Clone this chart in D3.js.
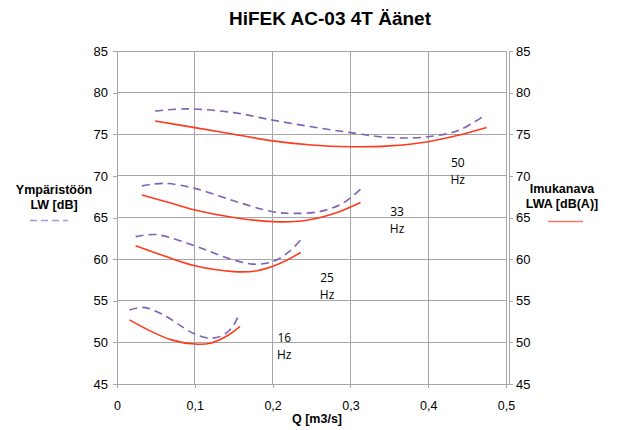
<!DOCTYPE html>
<html><head><meta charset="utf-8">
<script src="https://cdn.jsdelivr.net/npm/d3@7"></script>
<style>body{margin:0;background:#fff}svg{display:block}</style>
</head><body>
<svg id="c" width="619" height="430"></svg>
<script>
const title = "HiFEK AC-03 4T Äänet";
const xTitle = "Q [m3/s]";
const xTicks = [0, 0.1, 0.2, 0.3, 0.4, 0.5];
const yTicks = [45, 50, 55, 60, 65, 70, 75, 80, 85];
const leftLegend = ["Ympäristöön", "LW [dB]"];
const rightLegend = ["Imukanava", "LWA [dB(A)]"];

// Ympäristöön LW [dB] (dashed)
const lw50 = [[0.049,77.8],[0.09,78.05],[0.15,77.6],[0.2,76.7],[0.25,75.9],[0.3,75.2],[0.35,74.6],[0.4,74.7],[0.44,75.5],[0.473,77.3]];
const lw33 = [[0.032,68.8],[0.06,69.1],[0.1,68.5],[0.15,67.0],[0.2,65.7],[0.225,65.5],[0.26,65.7],[0.29,66.7],[0.313,68.4]];
const lw25 = [[0.024,62.7],[0.05,62.95],[0.1,61.6],[0.14,60.2],[0.175,59.4],[0.2,59.7],[0.22,60.8],[0.236,62.3]];
const lw16 = [[0.016,53.9],[0.034,54.2],[0.06,53.3],[0.085,51.8],[0.1,51.0],[0.118,50.5],[0.135,50.8],[0.148,51.8],[0.156,53.2]];
// Imukanava LWA [dB(A)] (solid)
const lwa50 = [[0.049,76.6],[0.1,75.8],[0.15,75.0],[0.2,74.2],[0.25,73.7],[0.3,73.5],[0.35,73.6],[0.4,74.1],[0.44,74.9],[0.475,75.8]];
const lwa33 = [[0.032,67.7],[0.07,66.7],[0.1,65.9],[0.15,65.0],[0.2,64.5],[0.24,64.6],[0.28,65.5],[0.313,66.8]];
const lwa25 = [[0.024,61.6],[0.06,60.4],[0.1,59.2],[0.15,58.5],[0.18,58.6],[0.21,59.5],[0.236,60.8]];
const lwa16 = [[0.016,52.7],[0.04,51.5],[0.07,50.3],[0.1,49.8],[0.12,49.9],[0.14,50.7],[0.158,51.9]];

const labels = [
  {t:["50","Hz"], q:0.438, v:71.1},
  {t:["33","Hz"], q:0.36, v:65.2},
  {t:["25","Hz"], q:0.27, v:57.3},
  {t:["16","Hz"], q:0.215, v:50.1}
];

const purple = "#7e62b6", red = "#ff3a1e", grid = "#a6a6a6";
const svg = d3.select("#c");
const x = d3.scaleLinear().domain([0,0.5]).range([117,506]);
const y = d3.scaleLinear().domain([45,85]).range([384,51]);
const font = "Arial, 'Liberation Sans', sans-serif";

// gridlines
svg.append("g").selectAll("line").data(yTicks).join("line")
  .attr("x1",x(0)).attr("x2",x(0.5)).attr("y1",d=>y(d)).attr("y2",d=>y(d))
  .attr("stroke",grid).attr("stroke-width",1).attr("shape-rendering","crispEdges");
svg.append("g").selectAll("line").data(xTicks).join("line")
  .attr("x1",d=>x(d)).attr("x2",d=>x(d)).attr("y1",y(85)).attr("y2",y(45))
  .attr("stroke",grid).attr("stroke-width",1).attr("shape-rendering","crispEdges");

// axes
const left = svg.append("g").attr("transform",`translate(${x(0)},0)`)
  .call(d3.axisLeft(y).tickValues(yTicks).tickSize(4).tickPadding(5));
const right = svg.append("g").attr("transform",`translate(${x(0.5)+3},0)`)
  .call(d3.axisRight(y).tickValues(yTicks).tickSize(4).tickPadding(3));
const bottom = svg.append("g").attr("transform",`translate(0,${y(45)})`)
  .call(d3.axisBottom(x).tickValues(xTicks).tickSize(4).tickPadding(13)
    .tickFormat(d=>d3.format(".1f")(d).replace(".",",").replace(/^0,0$/,"0")));
[left,right,bottom].forEach(g=>{
  g.selectAll("path,line").attr("stroke",grid).attr("shape-rendering","crispEdges");
  g.select(".domain").attr("d", null);
  g.selectAll("text").attr("font-family",font).attr("font-size",13).attr("fill","#000");
});
left.append("line").attr("x1",0).attr("x2",0).attr("y1",y(85)).attr("y2",y(45)).attr("stroke",grid).attr("shape-rendering","crispEdges");
right.append("line").attr("x1",0).attr("x2",0).attr("y1",y(85)).attr("y2",y(45)).attr("stroke",grid).attr("shape-rendering","crispEdges");
bottom.append("line").attr("x1",x(0)).attr("x2",x(0.5)+3).attr("y1",0).attr("y2",0).attr("stroke",grid).attr("shape-rendering","crispEdges");
bottom.selectAll("text").attr("font-size",12.5);

// curves
const line = d3.line().x(d=>x(d[0])).y(d=>y(d[1])).curve(d3.curveCatmullRom.alpha(0.5));
[lwa50,lwa33,lwa25,lwa16].forEach(s=>svg.append("path").attr("d",line(s))
  .attr("fill","none").attr("stroke",red).attr("stroke-width",1.6));
[lw50,lw33,lw25,lw16].forEach(s=>svg.append("path").attr("d",line(s))
  .attr("fill","none").attr("stroke",purple).attr("stroke-width",1.6).attr("stroke-dasharray","8,5"));

// Hz labels
labels.forEach(l=>{
  const t = svg.append("text").attr("x",x(l.q)).attr("y",y(l.v)).attr("text-anchor","middle")
    .attr("font-family","'Open Sans', 'Noto Sans', sans-serif").attr("font-size",12).attr("fill","#000");
  t.selectAll("tspan").data(l.t).join("tspan").attr("x",x(l.q)).attr("dy",(d,i)=>i?17:0).text(d=>d);
});

// title
svg.append("text").attr("x",330).attr("y",25).attr("text-anchor","middle")
  .attr("font-family",font).attr("font-weight","bold").attr("font-size",19).text(title);
svg.append("text").attr("x",317).attr("y",423).attr("text-anchor","middle")
  .attr("font-family",font).attr("font-weight","bold").attr("font-size",12.5).text(xTitle);

// legends
const lt = svg.append("text").attr("text-anchor","middle").attr("font-family",font)
  .attr("font-weight","bold").attr("font-size",12.5);
lt.selectAll("tspan").data(leftLegend).join("tspan").attr("x",54).attr("y",(d,i)=>194+i*15).text(d=>d);
svg.append("line").attr("x1",30).attr("x2",68).attr("y1",220.5).attr("y2",220.5)
  .attr("stroke","#a596d6").attr("stroke-width",1.5).attr("stroke-dasharray","7,4");
const rt = svg.append("text").attr("text-anchor","middle").attr("font-family",font)
  .attr("font-weight","bold").attr("font-size",12.5);
rt.selectAll("tspan").data(rightLegend).join("tspan").attr("x",562).attr("y",(d,i)=>193+i*15).text(d=>d);
svg.append("line").attr("x1",548).attr("x2",583).attr("y1",221.5).attr("y2",221.5)
  .attr("stroke","#f27a68").attr("stroke-width",1.5);
</script>
</body></html>
